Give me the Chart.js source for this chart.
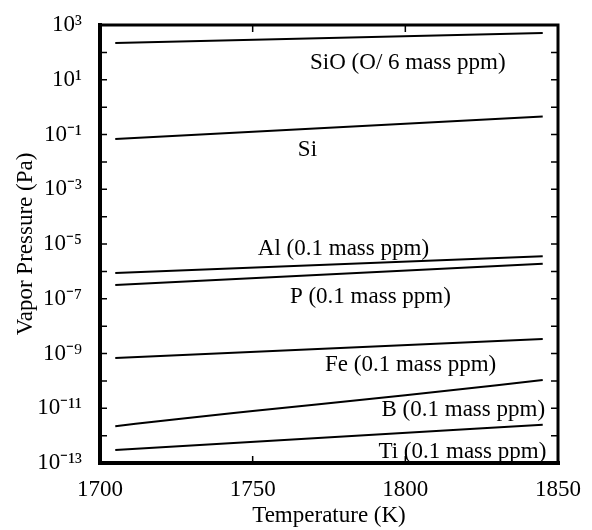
<!DOCTYPE html>
<html>
<head>
<meta charset="utf-8">
<script src="https://cdn.jsdelivr.net/npm/chart.js@4.4.0/dist/chart.umd.min.js"></script>
<style>
  body { margin: 0; background: #fff; }
  canvas { display: block; }
</style>
</head>
<body>
<canvas id="chart" width="592" height="530"></canvas>
<script>
'use strict';

const temps = [1705, 1845];
const tempsB = [1705, 1725, 1750, 1800, 1845];

// Vapor pressures (Pa)
const sio = [219, 513];
const si = [0.069, 0.45];
const al = [8.7e-7, 3.6e-6];
const p = [3.2e-7, 1.9e-6];
const fe = [6.9e-10, 3.4e-9];
const b = [2.2e-12, 4.0e-12, 7.9e-12, 3.0e-11, 1.07e-10];
const ti = [3.0e-13, 2.5e-12];

// Axis ticks
const xTicks = [1700, 1750, 1800, 1850];
const yExponents = [3, 2, 1, 0, -1, -2, -3, -4, -5, -6, -7, -8, -9, -10, -11, -12, -13];

// Line labels, anchored in data coordinates (left edge, vertical middle)
const labelText = ['SiO (O/ 6 mass ppm)', 'Si', 'Al (0.1 mass ppm)', 'P (0.1 mass ppm)',
  'Fe (0.1 mass ppm)', 'B (0.1 mass ppm)', 'Ti (0.1 mass ppm)'];
const labelT = [1768.8, 1764.8, 1751.7, 1762.2, 1773.7, 1792.2, 1791.2];
const labelP = [40, 0.027, 6.6e-6, 1.15e-7, 3.8e-10, 8.7e-12, 2.5e-13];

const FONT = '"Liberation Serif", "Times New Roman", serif';
const SIZE = 23;

function toPoints(xs, ys) {
  return xs.map((x, i) => ({ x: x, y: ys[i] }));
}

function line(data) {
  return {
    data: data,
    borderColor: '#000',
    borderWidth: 2,
    pointRadius: 0,
    fill: false,
    cubicInterpolationMode: 'monotone'
  };
}

const SUP = { '-': '\u207B', '0': '\u2070', '1': '\u00B9', '2': '\u00B2', '3': '\u00B3',
  '4': '\u2074', '5': '\u2075', '6': '\u2076', '7': '\u2077', '8': '\u2078', '9': '\u2079' };
function sup(n) {
  return String(n).split('').map(c => SUP[c]).join('');
}

// Frame, inward tick marks and line labels
const framePlugin = {
  id: 'frame',
  afterDraw(chart) {
    const { ctx, chartArea: a, scales } = chart;
    ctx.save();
    ctx.strokeStyle = '#000';
    ctx.lineWidth = 1.5;
    scales.y.ticks.forEach(t => {
      const y = scales.y.getPixelForValue(t.value);
      ctx.beginPath();
      ctx.moveTo(a.left, y); ctx.lineTo(a.left + 7, y);
      ctx.moveTo(a.right, y); ctx.lineTo(a.right - 7, y);
      ctx.stroke();
    });
    scales.x.ticks.forEach(t => {
      const x = scales.x.getPixelForValue(t.value);
      ctx.beginPath();
      ctx.moveTo(x, a.bottom); ctx.lineTo(x, a.bottom - 7);
      ctx.moveTo(x, a.top); ctx.lineTo(x, a.top + 7);
      ctx.stroke();
    });
    ctx.lineCap = 'square';
    ctx.lineWidth = 4;
    ctx.beginPath();
    ctx.moveTo(a.left, a.top); ctx.lineTo(a.left, a.bottom); ctx.lineTo(a.right, a.bottom);
    ctx.stroke();
    ctx.lineWidth = 3;
    ctx.beginPath();
    ctx.moveTo(a.left, a.top); ctx.lineTo(a.right, a.top); ctx.lineTo(a.right, a.bottom);
    ctx.stroke();

    ctx.fillStyle = '#000';
    ctx.font = SIZE + 'px ' + FONT;
    ctx.textAlign = 'left';
    ctx.textBaseline = 'middle';
    labelText.forEach((txt, i) => {
      ctx.fillText(txt, scales.x.getPixelForValue(labelT[i]), scales.y.getPixelForValue(labelP[i]));
    });
    ctx.restore();
  }
};

new Chart(document.getElementById('chart'), {
  type: 'line',
  data: {
    datasets: [
      line(toPoints(temps, sio)),
      line(toPoints(temps, si)),
      line(toPoints(temps, al)),
      line(toPoints(temps, p)),
      line(toPoints(temps, fe)),
      line(toPoints(tempsB, b)),
      line(toPoints(temps, ti))
    ]
  },
  options: {
    responsive: false,
    animation: false,
    devicePixelRatio: 1,
    layout: { padding: { top: 25, right: 34, left: 0, bottom: 0 } },
    plugins: { legend: { display: false }, tooltip: { enabled: false } },
    scales: {
      x: {
        type: 'linear',
        min: 1700,
        max: 1850,
        afterFit(scale) { scale.height = 67; },
        afterBuildTicks(scale) { scale.ticks = xTicks.map(v => ({ value: v })); },
        grid: { display: false },
        border: { display: false },
        ticks: {
          autoSkip: false,
          maxRotation: 0,
          padding: 5,
          color: '#000',
          font: { family: FONT, size: SIZE },
          callback: v => String(v)
        },
        title: {
          display: true,
          text: 'Temperature (K)',
          color: '#000',
          font: { family: FONT, size: SIZE },
          padding: { top: 0, bottom: 0 }
        }
      },
      y: {
        type: 'logarithmic',
        min: 1e-13,
        max: 1e3,
        afterFit(scale) { scale.width = 100; },
        afterBuildTicks(scale) { scale.ticks = yExponents.map(e => ({ value: Math.pow(10, e) })); },
        grid: { display: false },
        border: { display: false },
        ticks: {
          autoSkip: false,
          padding: 10,
          color: '#000',
          font: { family: FONT, size: SIZE },
          callback: function (v) {
            const e = Math.round(Math.log10(v));
            return e % 2 !== 0 ? '10' + sup(e) : '';
          }
        },
        title: {
          display: true,
          text: 'Vapor Pressure (Pa)',
          color: '#000',
          font: { family: FONT, size: SIZE },
          padding: { top: 12, bottom: 0 }
        }
      }
    }
  },
  plugins: [framePlugin]
});
</script>
</body>
</html>
